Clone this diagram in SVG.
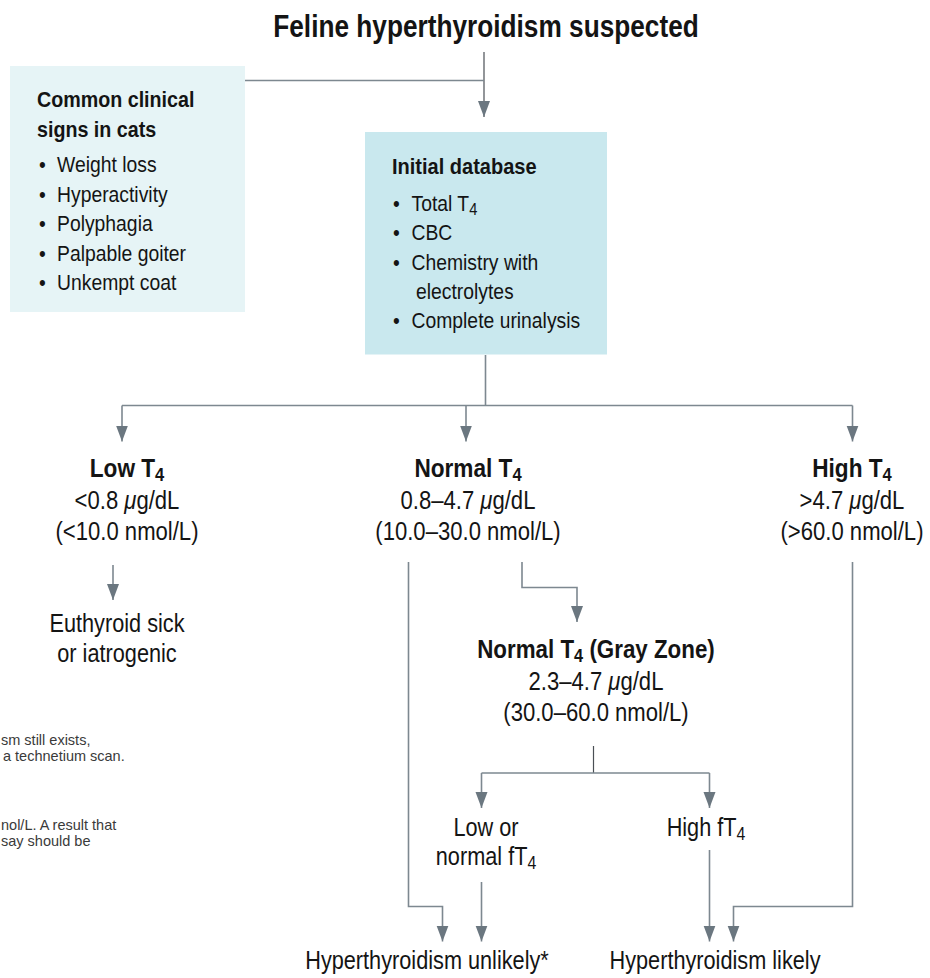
<svg xmlns="http://www.w3.org/2000/svg" width="930" height="978" viewBox="0 0 930 978">
<defs>
<style>
text{font-family:"Liberation Sans",Arial,sans-serif;fill:#141414}
.b{font-weight:bold}
.hd{font-size:22.5px;font-weight:bold}
.bd{font-size:22.5px}
.h2{font-size:26px;font-weight:bold}
.v{font-size:26px}
.fn{font-size:14.5px;fill:#3a3a3a}
.ln{fill:none;stroke:#7d8890;stroke-width:1.6}
.dk{fill:none;stroke:#4a4f55;stroke-width:1.2}
.ar{marker-end:url(#ah)}
</style>
<marker id="ah" viewBox="0 -7 16 14" refX="16" refY="0" markerWidth="16" markerHeight="14" markerUnits="userSpaceOnUse" orient="auto">
<path d="M0,-6 L16,0 L0,6 z" fill="#6b7780"/>
</marker>
</defs>
<rect width="930" height="978" fill="#ffffff"/>

<g id="connectors">
<path class="dk ar" d="M484,52 V117"/>
<path class="ln" d="M245,80.5 H484"/>
<path class="ln" d="M485.5,355 V405.5"/>
<path class="ln" d="M122,405.5 H852.5"/>
<path class="ln ar" d="M122,405.5 V441.5"/>
<path class="ln ar" d="M466,405.5 V441.5"/>
<path class="ln ar" d="M852.5,405.5 V441.5"/>
<path class="ln ar" d="M113,565 V600"/>
<path class="ln ar" d="M522,562 V587.5 H577 V622"/>
<path class="ln ar" d="M408.5,562 V906.5 H442.5 V941.5"/>
<path class="ln ar" d="M852.5,562 V906.5 H733.5 V941.5"/>
<path class="dk" d="M593.5,746 V773"/>
<path class="ln" d="M481.5,773 H709.5"/>
<path class="ln ar" d="M481.5,773 V808"/>
<path class="ln ar" d="M709.5,773 V808"/>
<path class="ln ar" d="M481.5,882 V941.5"/>
<path class="ln ar" d="M709.5,850 V941.5"/>
</g>

<g id="title">
<text class="b" font-size="30.5" text-anchor="middle" transform="translate(486,37) scale(0.86,1)">Feline hyperthyroidism suspected</text>
</g>

<g id="clinical-signs">
<rect x="10" y="66" width="235" height="246" fill="#e6f4f6"/>
<text class="hd" transform="translate(37,107) scale(0.875,1)">Common clinical</text>
<text class="hd" transform="translate(37,137) scale(0.875,1)">signs in cats</text>
<text class="bd" transform="translate(39,172) scale(0.86,1)">•</text>
<text class="bd" transform="translate(57,172) scale(0.86,1)">Weight loss</text>
<text class="bd" transform="translate(39,201.5) scale(0.86,1)">•</text>
<text class="bd" transform="translate(57,201.5) scale(0.86,1)">Hyperactivity</text>
<text class="bd" transform="translate(39,231) scale(0.86,1)">•</text>
<text class="bd" transform="translate(57,231) scale(0.86,1)">Polyphagia</text>
<text class="bd" transform="translate(39,260.5) scale(0.86,1)">•</text>
<text class="bd" transform="translate(57,260.5) scale(0.86,1)">Palpable goiter</text>
<text class="bd" transform="translate(39,290) scale(0.86,1)">•</text>
<text class="bd" transform="translate(57,290) scale(0.86,1)">Unkempt coat</text>
</g>

<g id="initial-database">
<rect x="365" y="132" width="242" height="222.5" fill="#c9e8ee"/>
<text class="hd" transform="translate(392,174) scale(0.89,1)">Initial database</text>
<text class="bd" transform="translate(393,211) scale(0.86,1)">•</text>
<text class="bd" transform="translate(411.5,211) scale(0.86,1)">Total T<tspan font-size="17" dy="4">4</tspan></text>
<text class="bd" transform="translate(393,240) scale(0.86,1)">•</text>
<text class="bd" transform="translate(411.5,240) scale(0.86,1)">CBC</text>
<text class="bd" transform="translate(393,269.5) scale(0.86,1)">•</text>
<text class="bd" transform="translate(411.5,269.5) scale(0.86,1)">Chemistry with</text>
<text class="bd" transform="translate(416,299) scale(0.86,1)">electrolytes</text>
<text class="bd" transform="translate(393,328) scale(0.86,1)">•</text>
<text class="bd" transform="translate(411.5,328) scale(0.86,1)">Complete urinalysis</text>
</g>

<g id="low-t4">
<text class="h2" text-anchor="middle" transform="translate(127,477) scale(0.87,1)">Low T<tspan font-size="19" dy="4">4</tspan></text>
<text class="v" text-anchor="middle" transform="translate(127,509) scale(0.85,1)">&lt;0.8 <tspan font-style="italic">μ</tspan>g/dL</text>
<text class="v" text-anchor="middle" transform="translate(127,540) scale(0.85,1)">(&lt;10.0 nmol/L)</text>
</g>

<g id="normal-t4">
<text class="h2" text-anchor="middle" transform="translate(468,477) scale(0.87,1)">Normal T<tspan font-size="19" dy="4">4</tspan></text>
<text class="v" text-anchor="middle" transform="translate(468,509) scale(0.85,1)">0.8–4.7 <tspan font-style="italic">μ</tspan>g/dL</text>
<text class="v" text-anchor="middle" transform="translate(468,540) scale(0.85,1)">(10.0–30.0 nmol/L)</text>
</g>

<g id="high-t4">
<text class="h2" text-anchor="middle" transform="translate(852,477) scale(0.87,1)">High T<tspan font-size="19" dy="4">4</tspan></text>
<text class="v" text-anchor="middle" transform="translate(852,509) scale(0.85,1)">&gt;4.7 <tspan font-style="italic">μ</tspan>g/dL</text>
<text class="v" text-anchor="middle" transform="translate(852,540) scale(0.85,1)">(&gt;60.0 nmol/L)</text>
</g>

<g id="euthyroid">
<text class="v" text-anchor="middle" transform="translate(117,632) scale(0.835,1)">Euthyroid sick</text>
<text class="v" text-anchor="middle" transform="translate(117,662) scale(0.835,1)">or iatrogenic</text>
</g>

<g id="gray-zone">
<text class="h2" text-anchor="middle" transform="translate(596,658) scale(0.86,1)">Normal T<tspan font-size="19" dy="4">4</tspan><tspan dy="-4"> (Gray Zone)</tspan></text>
<text class="v" text-anchor="middle" transform="translate(596,690) scale(0.85,1)">2.3–4.7 <tspan font-style="italic">μ</tspan>g/dL</text>
<text class="v" text-anchor="middle" transform="translate(596,721) scale(0.85,1)">(30.0–60.0 nmol/L)</text>
</g>

<g id="low-normal-ft4">
<text class="v" text-anchor="middle" transform="translate(486,836) scale(0.835,1)">Low or</text>
<text class="v" text-anchor="middle" transform="translate(486,865) scale(0.835,1)">normal fT<tspan font-size="19" dy="4">4</tspan></text>
</g>

<g id="high-ft4">
<text class="v" text-anchor="middle" transform="translate(706,836) scale(0.835,1)">High fT<tspan font-size="19" dy="4">4</tspan></text>
</g>

<g id="unlikely">
<text class="v" text-anchor="middle" transform="translate(427,969) scale(0.835,1)">Hyperthyroidism unlikely*</text>
</g>

<g id="likely">
<text class="v" text-anchor="middle" transform="translate(715,969) scale(0.835,1)">Hyperthyroidism likely</text>
</g>

<g id="footnotes">
<text class="fn" x="1" y="745">sm still exists,</text>
<text class="fn" x="3" y="761">a technetium scan.</text>
<text class="fn" x="1" y="830">nol/L. A result that</text>
<text class="fn" x="1" y="846">say should be</text>
</g>
</svg>
